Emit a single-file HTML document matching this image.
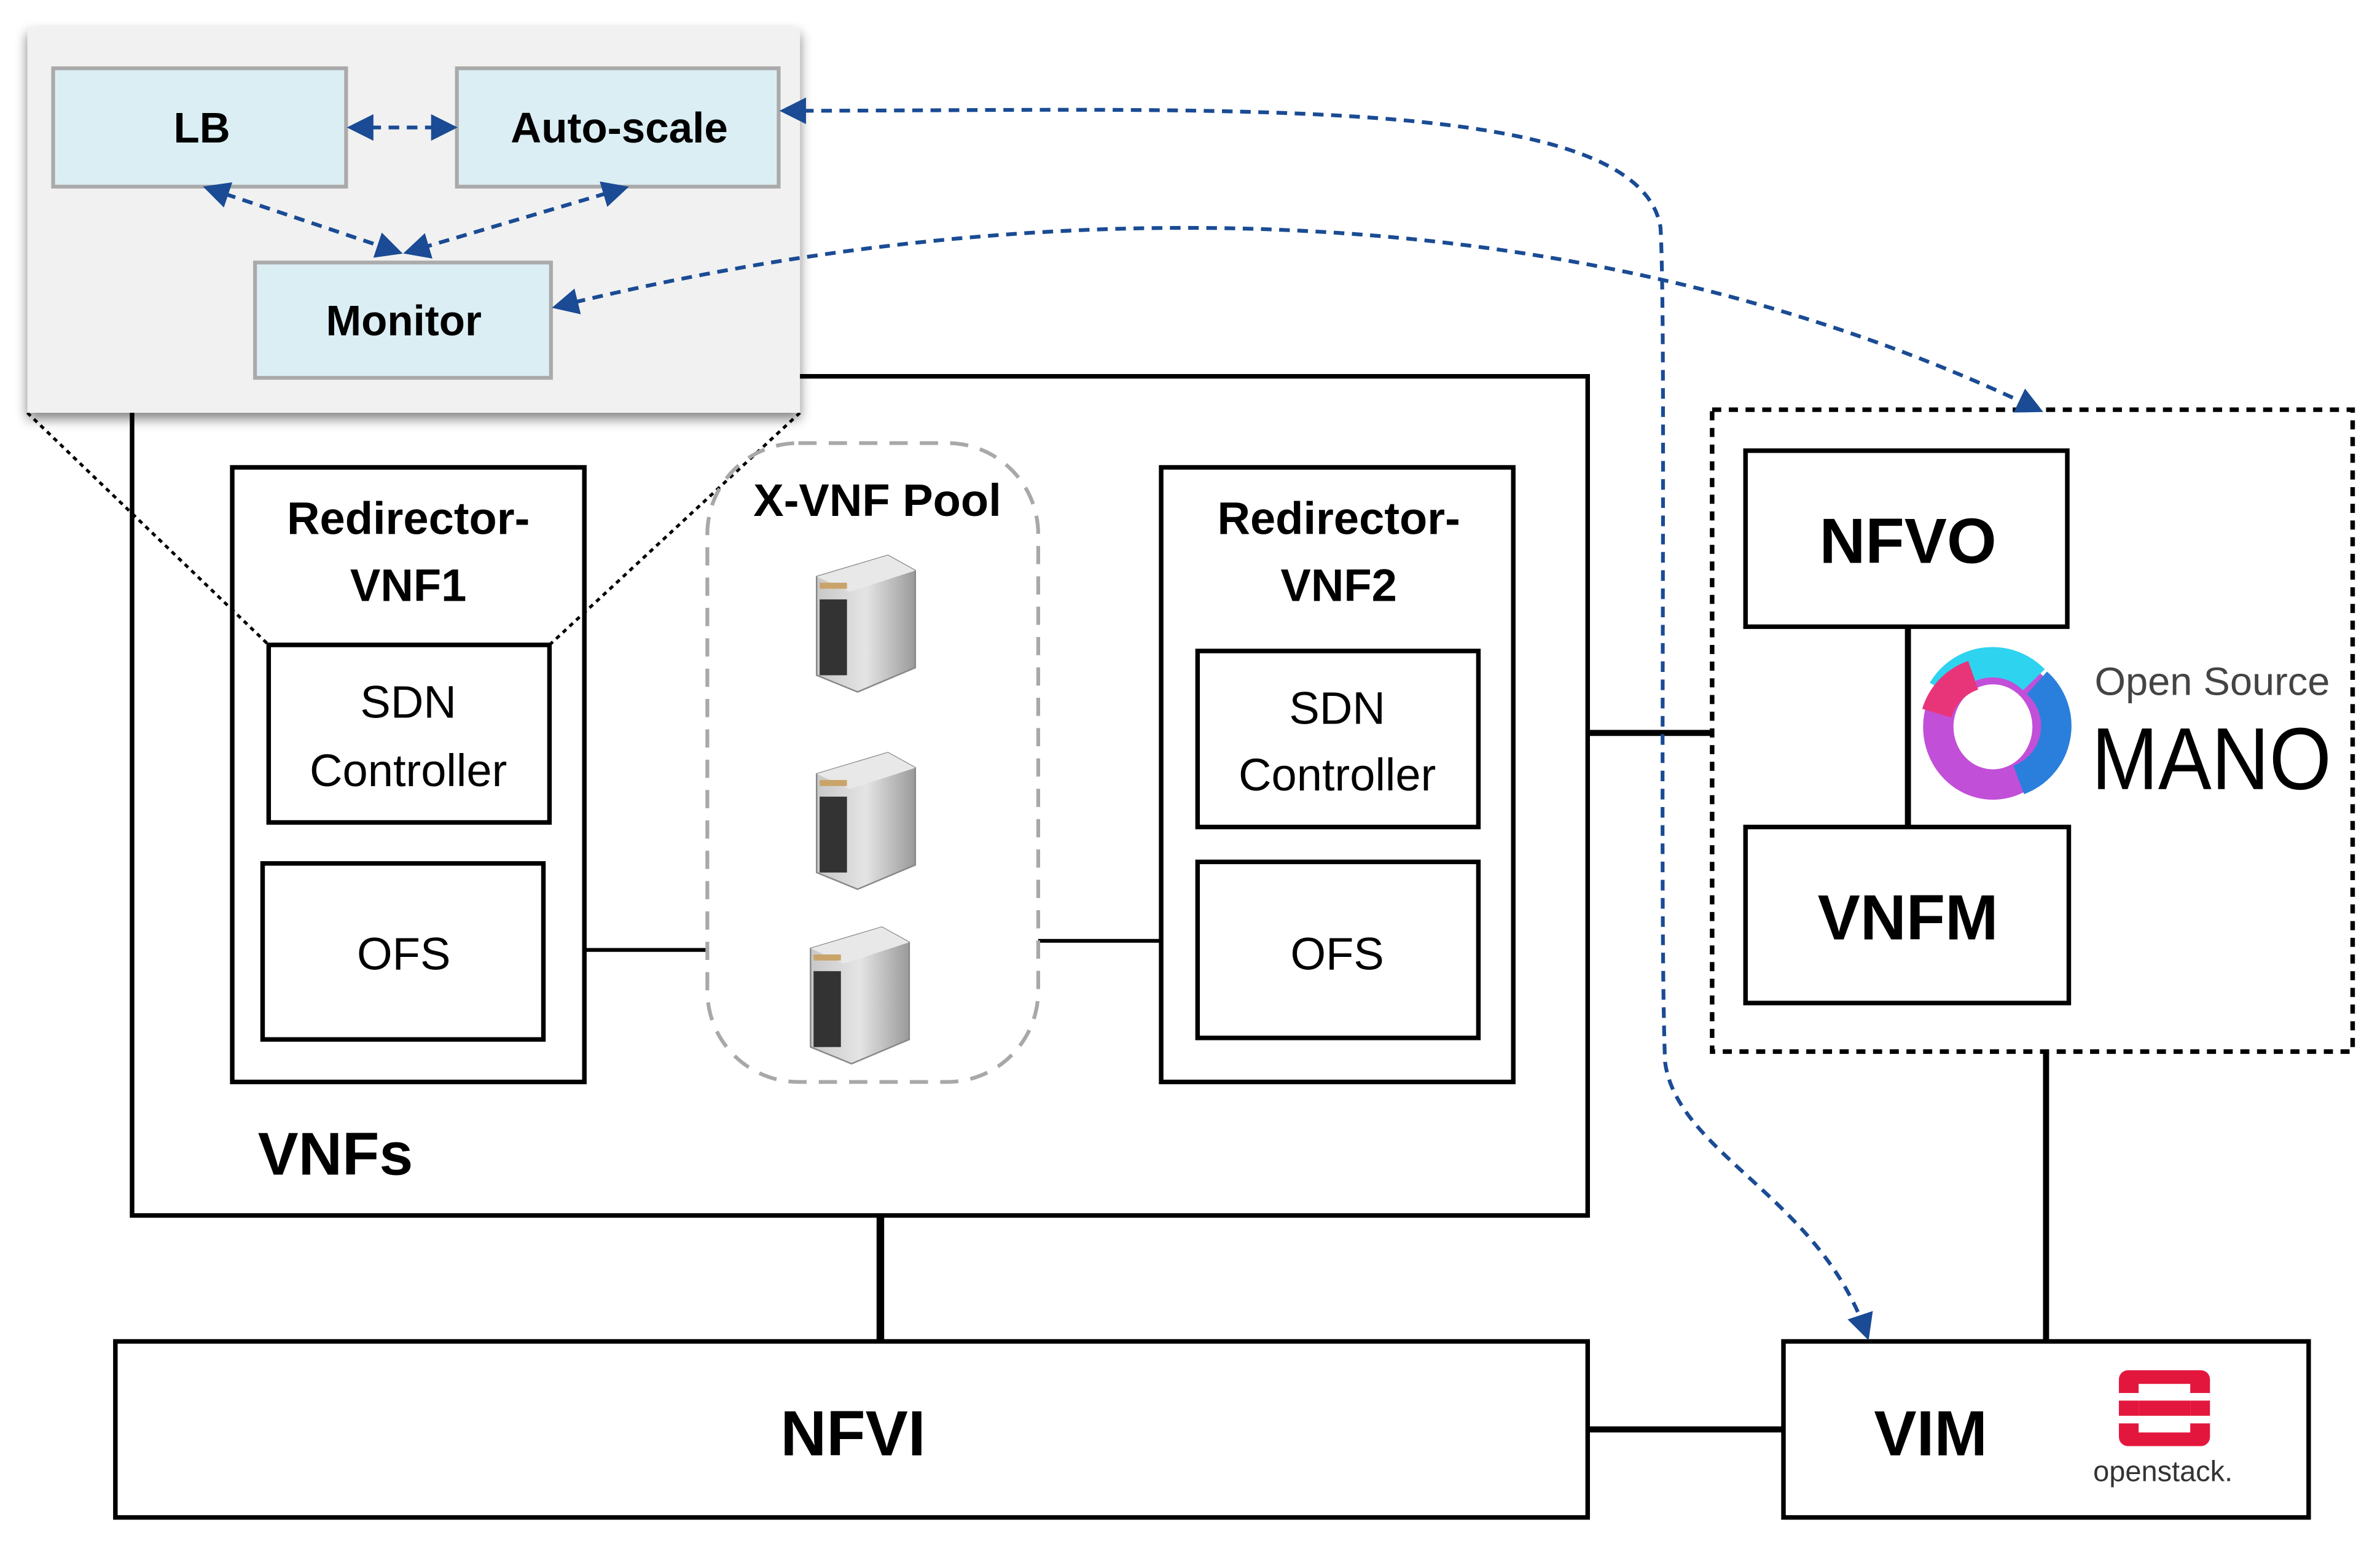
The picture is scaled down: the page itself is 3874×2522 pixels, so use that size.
<!DOCTYPE html>
<html><head><meta charset="utf-8"><style>html,body{margin:0;padding:0;background:#fff}svg{display:block}</style></head>
<body>
<svg width="3874" height="2522" viewBox="0 0 1568 1020.8" xmlns="http://www.w3.org/2000/svg" font-family="Liberation Sans, sans-serif">
<defs>
<marker id="a" viewBox="0 0 10 10" refX="8" refY="5" markerWidth="7" markerHeight="7" orient="auto-start-reverse"><path d="M0,0 L10,5 L0,10 z" fill="#1a4b94"/></marker>
<filter id="sh" x="-5%" y="-5%" width="112%" height="115%"><feGaussianBlur in="SourceAlpha" stdDeviation="4"/><feOffset dx="0" dy="4"/><feComponentTransfer><feFuncA type="linear" slope="0.5"/></feComponentTransfer><feMerge><feMergeNode/><feMergeNode in="SourceGraphic"/></feMerge></filter>
<linearGradient id="srv" x1="0" x2="1"><stop offset="0" stop-color="#c8c8c8"/><stop offset="0.5" stop-color="#e4e4e4"/><stop offset="1" stop-color="#9a9a9a"/></linearGradient>
</defs>
<g fill="none" stroke="#000" stroke-width="3">
<rect x="87" y="248" width="959" height="553"/>
<rect x="153" y="308" width="232" height="405"/>
<rect x="177" y="425" width="185" height="117"/>
<rect x="173" y="569" width="185" height="116"/>
<rect x="765" y="308" width="232" height="405"/>
<rect x="789" y="429" width="185" height="116"/>
<rect x="789" y="568" width="185" height="116"/>
<rect x="76" y="884" width="970" height="116"/>
<rect x="1175" y="884" width="346" height="116"/>
<rect x="1150" y="297" width="212" height="116"/>
<rect x="1150" y="545" width="213" height="116"/>
<line x1="385" y1="626" x2="466" y2="626" stroke-width="2.5"/>
<line x1="684" y1="620" x2="765" y2="620" stroke-width="2.5"/>
<line x1="1046" y1="483" x2="1128" y2="483" stroke-width="4"/>
<line x1="1257" y1="413" x2="1257" y2="545" stroke-width="4"/>
<line x1="580" y1="801" x2="580" y2="884" stroke-width="5"/>
<line x1="1348" y1="693" x2="1348" y2="884" stroke-width="4"/>
<line x1="1046" y1="942" x2="1175" y2="942" stroke-width="4"/>
<rect x="1128" y="270" width="422" height="423" stroke-dasharray="6,5"/>
<line x1="18" y1="272" x2="177" y2="425" stroke-width="2" stroke-dasharray="3,3"/>
<line x1="527" y1="272" x2="362" y2="425" stroke-width="2" stroke-dasharray="3,3"/>
</g>
<rect x="466" y="292" width="218" height="421" rx="60" fill="none" stroke="#a8a8a8" stroke-width="2.5" stroke-dasharray="12,8"/>
<rect x="18" y="18" width="509" height="254" fill="#f1f1f1" filter="url(#sh)"/>
<g fill="#dbeef3" stroke="#aaa" stroke-width="2.5">
<rect x="35" y="45" width="193" height="78"/>
<rect x="301" y="45" width="212" height="78"/>
<rect x="168" y="173" width="195" height="76"/>
</g>
<g fill="none" stroke="#1a4b94" stroke-width="2.5" stroke-dasharray="7,5" marker-start="url(#a)" marker-end="url(#a)">
<line x1="232" y1="84" x2="298" y2="84"/>
<line x1="137" y1="124" x2="262" y2="166"/>
<line x1="411" y1="124" x2="269" y2="166"/>
<path d="M517,73 C800,73 1080,60 1094,150 C1098,220 1093,600 1097,700 C1105,760 1200,790 1230,880"/>
<path d="M367,202 C700,120 1050,130 1343,270"/>
</g>
<g font-weight="bold" text-anchor="middle" fill="#000">
<text x="133" y="94" font-size="28">LB</text>
<text x="408" y="94" font-size="28">Auto-scale</text>
<text x="266" y="221" font-size="28">Monitor</text>
<text x="269" y="352" font-size="30">Redirector-</text>
<text x="269" y="396" font-size="30">VNF1</text>
<text x="882" y="352" font-size="30">Redirector-</text>
<text x="882" y="396" font-size="30">VNF2</text>
<text x="578" y="340" font-size="30">X-VNF Pool</text>
<text x="221" y="774" font-size="40">VNFs</text>
<text x="1257" y="371" font-size="42">NFVO</text>
<text x="1257" y="619" font-size="42">VNFM</text>
<text x="562" y="959" font-size="42">NFVI</text>
<text x="1272" y="959" font-size="42">VIM</text>
</g>
<g text-anchor="middle" font-size="30" fill="#000">
<text x="269" y="473">SDN</text>
<text x="269" y="518">Controller</text>
<text x="266" y="639">OFS</text>
<text x="881" y="477">SDN</text>
<text x="881" y="521">Controller</text>
<text x="881" y="639">OFS</text>
</g>
<g id="s">
<path d="M538,380 L585,366 L603,376 L603,440 L565,456 L538,445 Z" fill="url(#srv)" stroke="#888" stroke-width="1"/>
<path d="M538,380 L585,366 L603,376 L560,390 Z" fill="#e8e8e8"/>
<rect x="540" y="395" width="18" height="50" fill="#333"/>
<rect x="540" y="384" width="18" height="4" fill="#c9a46a"/>
</g>
<use href="#s" y="130"/>
<use href="#s" x="-4" y="245"/>
<ellipse cx="1313" cy="479" rx="36" ry="38" fill="none" stroke="#c24fd8" stroke-width="20"/>
<path d="M1280,455 A38,38 0 0 1 1340,448" fill="none" stroke="#2ed3ef" stroke-width="20"/>
<path d="M1342,450 A38,38 0 0 1 1330,514" fill="none" stroke="#2a7fdc" stroke-width="20"/>
<path d="M1276,470 A38,38 0 0 1 1300,445" fill="none" stroke="#e8357a" stroke-width="20"/>
<text x="1380" y="458" font-size="26" fill="#444" textLength="155" lengthAdjust="spacingAndGlyphs">Open Source</text>
<text x="1378" y="520" font-size="58" fill="#000" textLength="158" lengthAdjust="spacingAndGlyphs">MANO</text>
<rect x="1396" y="903" width="60" height="50" rx="6" fill="#e3173e"/>
<rect x="1396" y="918" width="60" height="5" fill="#fff"/>
<rect x="1396" y="933" width="60" height="5" fill="#fff"/>
<rect x="1409" y="912" width="34" height="32" fill="#fff"/>
<rect x="1409" y="923" width="34" height="10" fill="#e3173e"/>
<text x="1425" y="976" font-size="19" text-anchor="middle" fill="#333">openstack.</text>
</svg>
</body></html>
